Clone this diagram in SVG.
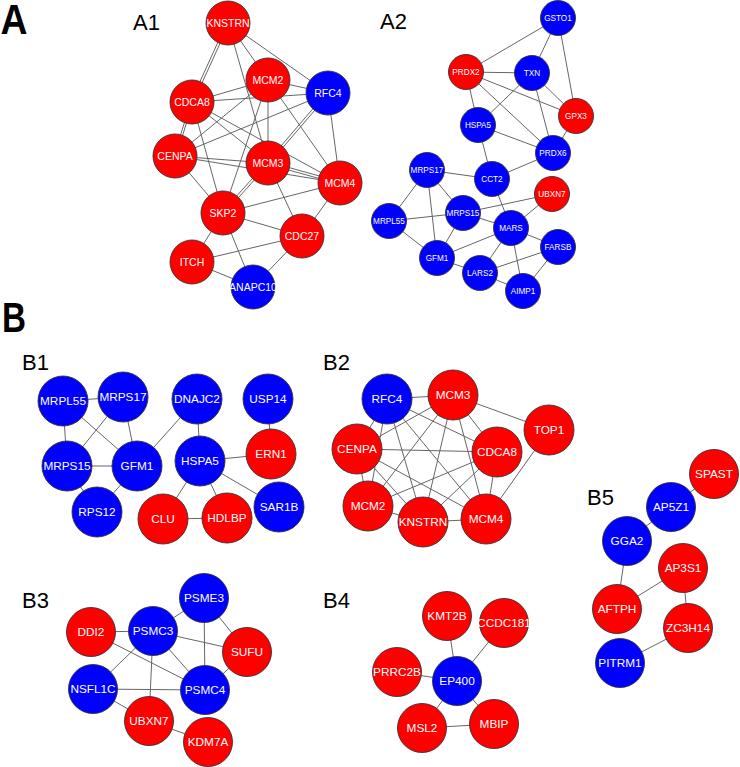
<svg xmlns="http://www.w3.org/2000/svg" width="740" height="767" viewBox="0 0 740 767">
<style>
.bg{fill:#fff}
.e line{stroke:#666;stroke-width:1;fill:none}
circle{stroke:#333;stroke-width:0.9}
.r circle{fill:#ff0000}
.b circle{fill:#0000ff}
g text{fill:#fff;font-family:"Liberation Sans",Arial,sans-serif;text-anchor:middle}
.a1 text{font-size:10.5px}
.a2 text{font-size:8.2px}
.bn text{font-size:11.8px}
.big{font-family:"Liberation Sans",Arial,sans-serif;font-weight:bold;font-size:42px;fill:#000}
.lab{font-family:"Liberation Sans",Arial,sans-serif;font-size:22px;fill:#000}
</style>
<rect class="bg" x="0" y="0" width="740" height="767"/>
<text class="big" x="0.5" y="34" textLength="27" lengthAdjust="spacingAndGlyphs">A</text>
<text class="big" x="2" y="332" textLength="24" lengthAdjust="spacingAndGlyphs">B</text>
<text class="lab" x="133" y="30">A1</text>
<text class="lab" x="380" y="29">A2</text>
<text class="lab" x="22" y="370">B1</text>
<text class="lab" x="323" y="370">B2</text>
<text class="lab" x="22" y="608">B3</text>
<text class="lab" x="323" y="608">B4</text>
<text class="lab" x="587" y="505">B5</text>

<g id="connectors" class="e">
<!-- A1 -->
<line x1="229.1" y1="23.5" x2="193.1" y2="102.5"/>
<line x1="226.9" y1="22.5" x2="190.9" y2="101.5"/>
<line x1="228" y1="23" x2="268" y2="80"/>
<line x1="228" y1="23" x2="328" y2="93"/>
<line x1="228" y1="23" x2="268" y2="163"/>
<line x1="192" y1="102" x2="268" y2="80"/>
<line x1="192" y1="102" x2="328" y2="93"/>
<line x1="193" y1="102.3" x2="176" y2="156.3"/>
<line x1="191" y1="101.7" x2="174" y2="155.7"/>
<line x1="192" y1="102" x2="268" y2="163"/>
<line x1="192" y1="102" x2="340" y2="183"/>
<line x1="192" y1="102" x2="223" y2="213"/>
<line x1="268" y1="80" x2="328" y2="93"/>
<line x1="268" y1="80" x2="175" y2="156"/>
<line x1="268" y1="80" x2="268" y2="163"/>
<line x1="268" y1="80" x2="223" y2="213"/>
<line x1="268" y1="80" x2="340" y2="183"/>
<line x1="328" y1="93" x2="175" y2="156"/>
<line x1="328.9" y1="93.8" x2="268.9" y2="163.8"/>
<line x1="327.1" y1="92.2" x2="267.1" y2="162.2"/>
<line x1="328" y1="93" x2="340" y2="183"/>
<line x1="175" y1="156" x2="268" y2="163"/>
<line x1="175" y1="156" x2="340" y2="183"/>
<line x1="175" y1="156" x2="223" y2="213"/>
<line x1="267.7" y1="164.2" x2="339.7" y2="184.2"/>
<line x1="268.3" y1="161.8" x2="340.3" y2="181.8"/>
<line x1="268.9" y1="163.8" x2="223.9" y2="213.8"/>
<line x1="267.1" y1="162.2" x2="222.1" y2="212.2"/>
<line x1="268" y1="163" x2="302" y2="236"/>
<line x1="340" y1="183" x2="223" y2="213"/>
<line x1="340" y1="183" x2="302" y2="236"/>
<line x1="223" y1="213" x2="302" y2="236"/>
<line x1="223" y1="213" x2="192" y2="262"/>
<line x1="223" y1="213" x2="253" y2="287"/>
<line x1="192" y1="262" x2="302" y2="236"/>
<line x1="192" y1="262" x2="253" y2="287"/>
<line x1="302" y1="236" x2="253" y2="287"/>
<!-- A2 -->
<line x1="558" y1="18" x2="466" y2="72"/>
<line x1="558" y1="18" x2="532" y2="73"/>
<line x1="558" y1="18" x2="576" y2="116"/>
<line x1="466" y1="72" x2="532" y2="73"/>
<line x1="466" y1="72" x2="576" y2="116"/>
<line x1="466" y1="72" x2="553" y2="153"/>
<line x1="466" y1="72" x2="478" y2="125"/>
<line x1="532" y1="73" x2="478" y2="125"/>
<line x1="532" y1="73" x2="576" y2="116"/>
<line x1="532" y1="73" x2="553" y2="153"/>
<line x1="576" y1="116" x2="553" y2="153"/>
<line x1="478" y1="125" x2="553" y2="153"/>
<line x1="478" y1="125" x2="492" y2="179"/>
<line x1="553" y1="153" x2="492" y2="179"/>
<line x1="427" y1="170" x2="492" y2="179"/>
<line x1="427" y1="170" x2="389" y2="221"/>
<line x1="427" y1="170" x2="463" y2="213"/>
<line x1="427" y1="170" x2="437" y2="258"/>
<line x1="492" y1="179" x2="511" y2="228"/>
<line x1="552" y1="194" x2="463" y2="213"/>
<line x1="552" y1="194" x2="511" y2="228"/>
<line x1="463" y1="213" x2="389" y2="221"/>
<line x1="463" y1="213" x2="437" y2="258"/>
<line x1="463" y1="213" x2="511" y2="228"/>
<line x1="389" y1="221" x2="437" y2="258"/>
<line x1="511" y1="228" x2="437" y2="258"/>
<line x1="511" y1="228" x2="480" y2="273"/>
<line x1="511" y1="228" x2="558" y2="247"/>
<line x1="511" y1="228" x2="523" y2="291"/>
<line x1="437" y1="258" x2="480" y2="273"/>
<line x1="480" y1="273" x2="558" y2="247"/>
<line x1="480" y1="273" x2="523" y2="291"/>
<line x1="558" y1="247" x2="523" y2="291"/>
<!-- B1 -->
<line x1="63" y1="401" x2="123" y2="397"/>
<line x1="63" y1="401" x2="67" y2="466"/>
<line x1="63" y1="401" x2="137" y2="466"/>
<line x1="123" y1="397" x2="67" y2="466"/>
<line x1="123" y1="397" x2="137" y2="466"/>
<line x1="67" y1="466" x2="137" y2="466"/>
<line x1="67" y1="466" x2="97" y2="512"/>
<line x1="137" y1="466" x2="97" y2="512"/>
<line x1="137" y1="466" x2="197" y2="399"/>
<line x1="197" y1="399" x2="200" y2="461"/>
<line x1="268" y1="399" x2="271" y2="454"/>
<line x1="200" y1="461" x2="271" y2="454"/>
<line x1="200" y1="461" x2="163" y2="519"/>
<line x1="200" y1="461" x2="227" y2="518"/>
<line x1="200" y1="461" x2="279" y2="507"/>
<line x1="163" y1="519" x2="227" y2="518"/>
<!-- B2 -->
<line x1="387" y1="399" x2="453" y2="395"/>
<line x1="387" y1="399" x2="357" y2="449"/>
<line x1="387" y1="399" x2="497" y2="452"/>
<line x1="387" y1="399" x2="368" y2="506"/>
<line x1="387" y1="399" x2="423" y2="522"/>
<line x1="387" y1="399" x2="486" y2="519"/>
<line x1="453" y1="395" x2="357" y2="449"/>
<line x1="453" y1="395" x2="497" y2="452"/>
<line x1="453" y1="395" x2="368" y2="506"/>
<line x1="453" y1="395" x2="423" y2="522"/>
<line x1="453" y1="395" x2="486" y2="519"/>
<line x1="453" y1="395" x2="549" y2="430"/>
<line x1="357" y1="449" x2="497" y2="452"/>
<line x1="357" y1="449" x2="368" y2="506"/>
<line x1="357" y1="449" x2="423" y2="522"/>
<line x1="357" y1="449" x2="486" y2="519"/>
<line x1="497" y1="452" x2="368" y2="506"/>
<line x1="497" y1="452" x2="423" y2="522"/>
<line x1="497" y1="452" x2="486" y2="519"/>
<line x1="368" y1="506" x2="423" y2="522"/>
<line x1="423" y1="522" x2="486" y2="519"/>
<line x1="486" y1="519" x2="549" y2="430"/>
<!-- B3 -->
<line x1="204" y1="598" x2="153" y2="631"/>
<line x1="204" y1="598" x2="247" y2="652"/>
<line x1="204" y1="598" x2="205" y2="690"/>
<line x1="91" y1="632" x2="153" y2="631"/>
<line x1="91" y1="632" x2="205" y2="690"/>
<line x1="153" y1="631" x2="247" y2="652"/>
<line x1="153" y1="631" x2="93" y2="689"/>
<line x1="153" y1="631" x2="205" y2="690"/>
<line x1="153" y1="631" x2="149" y2="721"/>
<line x1="247" y1="652" x2="205" y2="690"/>
<line x1="93" y1="689" x2="205" y2="690"/>
<line x1="93" y1="689" x2="149" y2="721"/>
<line x1="149" y1="721" x2="208" y2="742"/>
<!-- B4 -->
<line x1="457" y1="681" x2="447" y2="616"/>
<line x1="457" y1="681" x2="504" y2="623"/>
<line x1="457" y1="681" x2="397" y2="672"/>
<line x1="457" y1="681" x2="422" y2="728"/>
<line x1="457" y1="681" x2="494" y2="724"/>
<line x1="422" y1="728" x2="494" y2="724"/>
<!-- B5 -->
<line x1="714" y1="474" x2="671" y2="507"/>
<line x1="671" y1="507" x2="627" y2="541"/>
<line x1="627" y1="541" x2="617" y2="609"/>
<line x1="617" y1="609" x2="683" y2="568"/>
<line x1="683" y1="568" x2="688" y2="628"/>
<line x1="688" y1="628" x2="620" y2="663"/>
</g>

<g class="a1">
<g id="a1-KNSTRN" class="r"><circle cx="228" cy="23" r="22"/><text x="228" y="26.7">KNSTRN</text></g>
<g id="a1-MCM2" class="r"><circle cx="268" cy="80" r="22"/><text x="268" y="83.7">MCM2</text></g>
<g id="a1-RFC4" class="b"><circle cx="328" cy="93" r="22"/><text x="328" y="96.7">RFC4</text></g>
<g id="a1-CDCA8" class="r"><circle cx="192" cy="102" r="22"/><text x="192" y="105.7">CDCA8</text></g>
<g id="a1-CENPA" class="r"><circle cx="175" cy="156" r="22"/><text x="175" y="159.7">CENPA</text></g>
<g id="a1-MCM3" class="r"><circle cx="268" cy="163" r="22"/><text x="268" y="166.7">MCM3</text></g>
<g id="a1-MCM4" class="r"><circle cx="340" cy="183" r="22"/><text x="340" y="186.7">MCM4</text></g>
<g id="a1-SKP2" class="r"><circle cx="223" cy="213" r="22"/><text x="223" y="216.7">SKP2</text></g>
<g id="a1-CDC27" class="r"><circle cx="302" cy="236" r="22"/><text x="302" y="239.7">CDC27</text></g>
<g id="a1-ITCH" class="r"><circle cx="192" cy="262" r="22"/><text x="192" y="265.7">ITCH</text></g>
<g id="a1-ANAPC10" class="b"><circle cx="253" cy="287" r="22"/><text x="253" y="290.7">ANAPC10</text></g>
</g>

<g class="a2">
<g id="a2-GSTO1" class="b"><circle cx="558" cy="18" r="17.5"/><text x="558" y="21">GSTO1</text></g>
<g id="a2-PRDX2" class="r"><circle cx="466" cy="72" r="17.5"/><text x="466" y="75">PRDX2</text></g>
<g id="a2-TXN" class="b"><circle cx="532" cy="73" r="17.5"/><text x="532" y="76">TXN</text></g>
<g id="a2-GPX3" class="r"><circle cx="576" cy="116" r="17.5"/><text x="576" y="119">GPX3</text></g>
<g id="a2-HSPA5" class="b"><circle cx="478" cy="125" r="17.5"/><text x="478" y="128">HSPA5</text></g>
<g id="a2-PRDX6" class="b"><circle cx="553" cy="153" r="17.5"/><text x="553" y="156">PRDX6</text></g>
<g id="a2-MRPS17" class="b"><circle cx="427" cy="170" r="17.5"/><text x="427" y="173">MRPS17</text></g>
<g id="a2-CCT2" class="b"><circle cx="492" cy="179" r="17.5"/><text x="492" y="182">CCT2</text></g>
<g id="a2-UBXN7" class="r"><circle cx="552" cy="194" r="17.5"/><text x="552" y="197">UBXN7</text></g>
<g id="a2-MRPS15" class="b"><circle cx="463" cy="213" r="17.5"/><text x="463" y="216">MRPS15</text></g>
<g id="a2-MRPL55" class="b"><circle cx="389" cy="221" r="17.5"/><text x="389" y="224">MRPL55</text></g>
<g id="a2-MARS" class="b"><circle cx="511" cy="228" r="17.5"/><text x="511" y="231">MARS</text></g>
<g id="a2-FARSB" class="b"><circle cx="558" cy="247" r="17.5"/><text x="558" y="250">FARSB</text></g>
<g id="a2-GFM1" class="b"><circle cx="437" cy="258" r="17.5"/><text x="437" y="261">GFM1</text></g>
<g id="a2-LARS2" class="b"><circle cx="480" cy="273" r="17.5"/><text x="480" y="276">LARS2</text></g>
<g id="a2-AIMP1" class="b"><circle cx="523" cy="291" r="17.5"/><text x="523" y="294">AIMP1</text></g>
</g>

<g class="bn">
<g id="b1-MRPL55" class="b"><circle cx="63" cy="401" r="25"/><text x="63" y="405.2">MRPL55</text></g>
<g id="b1-MRPS17" class="b"><circle cx="123" cy="397" r="25"/><text x="123" y="401.2">MRPS17</text></g>
<g id="b1-DNAJC2" class="b"><circle cx="197" cy="399" r="25"/><text x="197" y="403.2">DNAJC2</text></g>
<g id="b1-USP14" class="b"><circle cx="268" cy="399" r="25"/><text x="268" y="403.2">USP14</text></g>
<g id="b1-MRPS15" class="b"><circle cx="67" cy="466" r="25"/><text x="67" y="470.2">MRPS15</text></g>
<g id="b1-GFM1" class="b"><circle cx="137" cy="466" r="25"/><text x="137" y="470.2">GFM1</text></g>
<g id="b1-HSPA5" class="b"><circle cx="200" cy="461" r="25"/><text x="200" y="465.2">HSPA5</text></g>
<g id="b1-ERN1" class="r"><circle cx="271" cy="454" r="25"/><text x="271" y="458.2">ERN1</text></g>
<g id="b1-RPS12" class="b"><circle cx="97" cy="512" r="25"/><text x="97" y="516.2">RPS12</text></g>
<g id="b1-CLU" class="r"><circle cx="163" cy="519" r="25"/><text x="163" y="523.2">CLU</text></g>
<g id="b1-HDLBP" class="r"><circle cx="227" cy="518" r="25"/><text x="227" y="522.2">HDLBP</text></g>
<g id="b1-SAR1B" class="b"><circle cx="279" cy="507" r="25"/><text x="279" y="511.2">SAR1B</text></g>

<g id="b2-RFC4" class="b"><circle cx="387" cy="399" r="25"/><text x="387" y="403.2">RFC4</text></g>
<g id="b2-MCM3" class="r"><circle cx="453" cy="395" r="25"/><text x="453" y="399.2">MCM3</text></g>
<g id="b2-CENPA" class="r"><circle cx="357" cy="449" r="25"/><text x="357" y="453.2">CENPA</text></g>
<g id="b2-CDCA8" class="r"><circle cx="497" cy="452" r="25"/><text x="497" y="456.2">CDCA8</text></g>
<g id="b2-TOP1" class="r"><circle cx="549" cy="430" r="25"/><text x="549" y="434.2">TOP1</text></g>
<g id="b2-MCM2" class="r"><circle cx="368" cy="506" r="25"/><text x="368" y="510.2">MCM2</text></g>
<g id="b2-KNSTRN" class="r"><circle cx="423" cy="522" r="25"/><text x="423" y="526.2">KNSTRN</text></g>
<g id="b2-MCM4" class="r"><circle cx="486" cy="519" r="25"/><text x="486" y="523.2">MCM4</text></g>

<g id="b3-PSME3" class="b"><circle cx="204" cy="598" r="24.5"/><text x="204" y="602.2">PSME3</text></g>
<g id="b3-DDI2" class="r"><circle cx="91" cy="632" r="24.5"/><text x="91" y="636.2">DDI2</text></g>
<g id="b3-PSMC3" class="b"><circle cx="153" cy="631" r="24.5"/><text x="153" y="635.2">PSMC3</text></g>
<g id="b3-SUFU" class="r"><circle cx="247" cy="652" r="24.5"/><text x="247" y="656.2">SUFU</text></g>
<g id="b3-NSFL1C" class="b"><circle cx="93" cy="689" r="24.5"/><text x="93" y="693.2">NSFL1C</text></g>
<g id="b3-PSMC4" class="b"><circle cx="205" cy="690" r="24.5"/><text x="205" y="694.2">PSMC4</text></g>
<g id="b3-UBXN7" class="r"><circle cx="149" cy="721" r="24.5"/><text x="149" y="725.2">UBXN7</text></g>
<g id="b3-KDM7A" class="r"><circle cx="208" cy="742" r="24.5"/><text x="208" y="746.2">KDM7A</text></g>

<g id="b4-KMT2B" class="r"><circle cx="447" cy="616" r="24.5"/><text x="447" y="620.2">KMT2B</text></g>
<g id="b4-CCDC181" class="r"><circle cx="504" cy="623" r="24.5"/><text x="504" y="627.2">CCDC181</text></g>
<g id="b4-PRRC2B" class="r"><circle cx="397" cy="672" r="24.5"/><text x="397" y="676.2">PRRC2B</text></g>
<g id="b4-EP400" class="b"><circle cx="457" cy="681" r="24.5"/><text x="457" y="685.2">EP400</text></g>
<g id="b4-MSL2" class="r"><circle cx="422" cy="728" r="24.5"/><text x="422" y="732.2">MSL2</text></g>
<g id="b4-MBIP" class="r"><circle cx="494" cy="724" r="24.5"/><text x="494" y="728.2">MBIP</text></g>

<g id="b5-SPAST" class="r"><circle cx="714" cy="474" r="24.5"/><text x="714" y="478.2">SPAST</text></g>
<g id="b5-AP5Z1" class="b"><circle cx="671" cy="507" r="24.5"/><text x="671" y="511.2">AP5Z1</text></g>
<g id="b5-GGA2" class="b"><circle cx="627" cy="541" r="24.5"/><text x="627" y="545.2">GGA2</text></g>
<g id="b5-AP3S1" class="r"><circle cx="683" cy="568" r="24.5"/><text x="683" y="572.2">AP3S1</text></g>
<g id="b5-AFTPH" class="r"><circle cx="617" cy="609" r="24.5"/><text x="617" y="613.2">AFTPH</text></g>
<g id="b5-ZC3H14" class="r"><circle cx="688" cy="628" r="24.5"/><text x="688" y="632.2">ZC3H14</text></g>
<g id="b5-PITRM1" class="b"><circle cx="620" cy="663" r="24.5"/><text x="620" y="667.2">PITRM1</text></g>
</g>
</svg>
